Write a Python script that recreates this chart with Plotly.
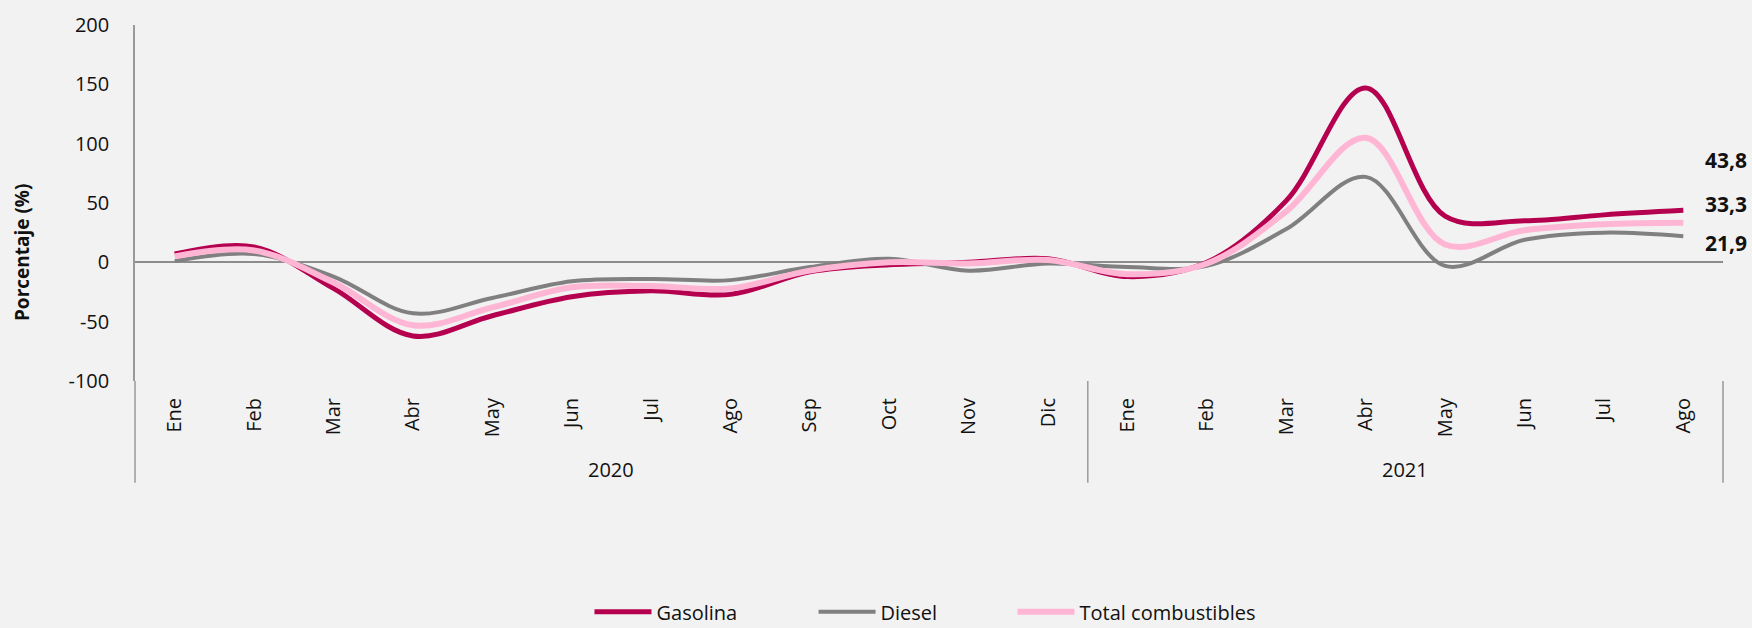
import plotly.graph_objects as go

months = ["Ene", "Feb", "Mar", "Abr", "May", "Jun", "Jul", "Ago", "Sep", "Oct", "Nov", "Dic",
          "Ene", "Feb", "Mar", "Abr", "May", "Jun", "Jul", "Ago"]
year_labels = ["2020", "2021"]
year_counts = [12, 8]
y_ticks = [-100, -50, 0, 50, 100, 150, 200]

gasolina = [7, 13, -22, -62, -45, -29, -24, -27, -8, -2, 0, 3, -12, 0, 52, 147, 39, 35, 40, 43.8]
diesel = [1, 7, -12, -43, -30, -16, -14, -15, -4, 3, -7, -1, -4, -3, 28, 72, -3, 19, 25, 21.9]
total = [5, 10, -17, -53, -38, -21, -20, -22, -7, 0, -1, 2, -10, -1, 43, 105, 15, 27, 32, 33.3]

series_names = ["Gasolina", "Diesel", "Total combustibles"]
series_values = [gasolina, diesel, total]

# styles
colors = ["#B4004E", "#808080", "#FFB6D5"]
widths = [5, 4, 6]
label_pos = [86, 16, 49.5]          # y positions of the end labels (Gasolina, Diesel, Total)
legend_x = [0.2862, 0.4273, 0.5526]  # paper x of each legend entry
legend_ids = ["legend", "legend2", "legend3"]
FONT = "Open Sans"
TXT = "#111111"
BG = "#F2F2F2"
AXC = "#9A9A9A"

x = list(range(len(months)))
fig = go.Figure()
for name, vals, c, w, lid in zip(series_names, series_values, colors, widths, legend_ids):
    fig.add_trace(go.Scatter(
        x=x, y=vals, name=name, mode="lines", legend=lid,
        line=dict(color=c, width=w, shape="spline", smoothing=1.0),
        hoverinfo="skip",
    ))

n = len(months)
legend_style = lambda lx: dict(orientation="h", x=lx, xanchor="left", y=-0.648, yanchor="middle",
                               font=dict(size=20, color=TXT), itemwidth=57,
                               bgcolor="rgba(0,0,0,0)")
fig.update_layout(
    width=1752, height=628,
    paper_bgcolor=BG, plot_bgcolor=BG,
    margin=dict(l=135, r=29, t=25, b=247, autoexpand=False),
    font=dict(family=FONT, size=20, color=TXT),
    showlegend=True,
    legend=legend_style(legend_x[0]),
    legend2=legend_style(legend_x[1]),
    legend3=legend_style(legend_x[2]),
    xaxis=dict(range=[-0.5, n - 0.5], tickmode="array", tickvals=x, ticktext=months,
               tickangle=-90, showgrid=False, zeroline=False, showline=False,
               ticks="", ticklabelstandoff=12, tickfont=dict(size=20, color=TXT)),
    yaxis=dict(range=[-100, 200], tickmode="array", tickvals=y_ticks,
               ticktext=[str(v) for v in y_ticks],
               showgrid=False, zeroline=True, zerolinecolor="#8C8C8C", zerolinewidth=2,
               showline=True, linecolor=AXC, linewidth=1.5, ticks="",
               ticklabelstandoff=20, tickfont=dict(size=20, color=TXT)),
)

# axis extension and year dividers
low = -0.286
fig.add_shape(type="line", xref="paper", yref="paper", x0=0, x1=0, y0=0, y1=low,
              line=dict(color=AXC, width=1.5))
cum = 0
for lab, cnt in zip(year_labels, year_counts):
    start = cum
    cum += cnt
    fig.add_shape(type="line", xref="paper", yref="paper", x0=cum / n, x1=cum / n, y0=0, y1=low,
                  line=dict(color=AXC, width=1.5))
    fig.add_annotation(text=lab, xref="paper", yref="paper", x=(start + cum) / 2 / n, y=-0.248,
                       showarrow=False, xanchor="center", yanchor="middle",
                       font=dict(size=20, color=TXT))

# y title
fig.add_annotation(text="<b>Porcentaje (%)</b>", xref="paper", yref="paper", x=-0.0712, y=0.362,
                   textangle=-90, showarrow=False, xanchor="center", yanchor="middle",
                   font=dict(size=19, color=TXT))

# end labels
for vals, ly in zip(series_values, label_pos):
    fig.add_annotation(text="<b>" + f"{vals[-1]:.1f}".replace(".", ",") + "</b>",
                       xref="paper", yref="y", x=1.002, y=ly, showarrow=False,
                       xanchor="center", yanchor="middle", font=dict(size=21, color=TXT))

fig.write_html("out.html", config={"displayModeBar": False},
               post_script="document.body.style.margin='0';document.body.style.overflow='hidden';")
